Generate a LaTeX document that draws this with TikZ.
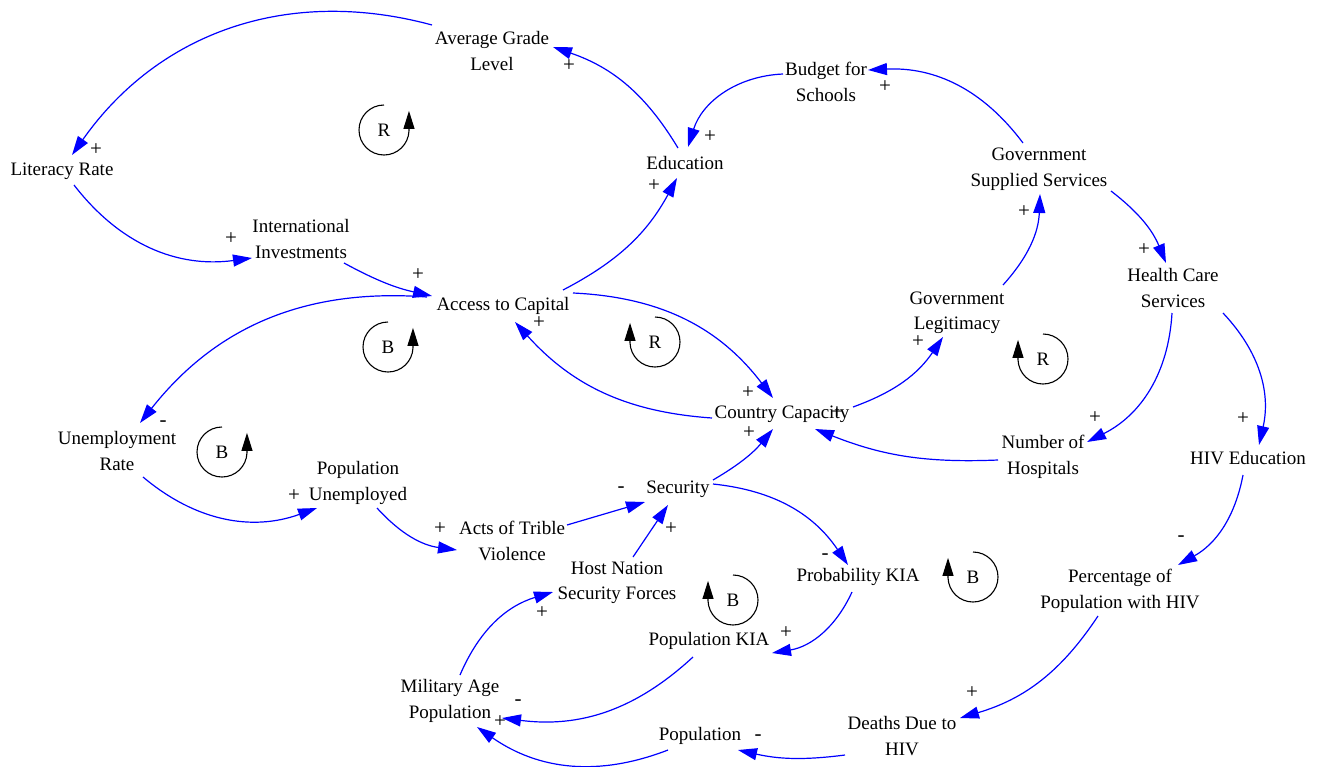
\documentclass[tikz,border=0pt]{standalone}
\usepackage{fontspec}
\setmainfont{Liberation Serif}
\usetikzlibrary{arrows.meta,calc}
\definecolor{linkblue}{RGB}{0,0,255}
\begin{document}
\begin{tikzpicture}[x=1pt,y=1pt,
  var/.style={align=center,inner sep=0pt,font=\fontsize{19}{25.5}\selectfont},
  pol/.style={inner sep=0pt,font=\fontsize{21}{21}\selectfont},
  lk/.style={draw=linkblue,line width=1.2pt,-{Triangle[length=19pt,width=12pt]}},
  loopmark/.style={draw=black,line width=1.1pt,-{Triangle[length=18pt,width=11pt]}},
  looplabel/.style={inner sep=0pt,font=\fontsize{19}{19}\selectfont}]
\useasboundingbox (0,0) rectangle (1320,-766);

% variables
\node[var] (agl)  at (492,-51)  {Average Grade\\Level};
\node[var] (lit)  at (62,-171)  {Literacy Rate};
\node[var] (inv)  at (301,-239) {International\\Investments};
\node[var] (acc)  at (503,-306) {Access to Capital};
\node[var] (edu)  at (685,-163) {Education};
\node[var] (bud)  at (826,-82)  {Budget for\\Schools};
\node[var] (gss)  at (1039,-169) {Government\\Supplied Services};
\node[var] (hcs)  at (1173,-288) {Health Care\\Services};
\node[var] (leg)  at (957,-313) {Government\\Legitimacy};
\node[var] (cap)  at (782,-414) {Country Capacity};
\node[var] (hos)  at (1043,-457) {Number of\\Hospitals};
\node[var] (hiv)  at (1248,-458) {HIV Education};
\node[var] (ur)   at (117,-451) {Unemployment\\Rate};
\node[var] (pu)   at (358,-483) {Population\\Unemployed};
\node[var] (sec)  at (678,-489) {Security};
\node[var] (atv)  at (512,-541) {Acts of Trible\\Violence};
\node[var] (hns)  at (617,-583) {Host Nation\\Security Forces};
\node[var] (pk)   at (858,-577) {Probability KIA};
\node[var] (pkia) at (709,-641) {Population KIA};
\node[var] (php)  at (1120,-591) {Percentage of\\Population with HIV};
\node[var] (map)  at (450,-701) {Military Age\\Population};
\node[var] (popl) at (700,-736) {Population};
\node[var] (dd)   at (902,-736) {Deaths Due to\\HIV};

% causal links
\draw[lk] ($(edu)+(-7,15)$)  to[bend right=20] ($(agl)+(61,4)$);
\draw[lk] ($(agl)+(-60,26)$) to[bend right=35] ($(lit)+(10,16)$);
\draw[lk] ($(lit)+(12,-14)$) to[bend right=30] ($(inv)+(-49,-19)$);
\draw[lk] ($(inv)+(43,-24)$) to[bend right=8]  ($(acc)+(-71,10)$);
\draw[lk] ($(acc)+(60,16)$)  to[bend right=17] ($(edu)+(-8,-15)$);
\draw[lk] ($(bud)+(-43,8)$)  to[bend right=35] ($(edu)+(3,16)$);
\draw[lk] ($(gss)+(-16,26)$) to[bend right=28] ($(bud)+(42,12)$);
\draw[lk] ($(gss)+(72,-22)$) to[bend left=15]  ($(hcs)+(-7,25)$);
\draw[lk] ($(hcs)+(-1,-25)$) to[bend left=30]  ($(hos)+(44,15)$);
\draw[lk] ($(hcs)+(50,-25)$) to[bend left=28]  ($(hiv)+(11,13)$);
\draw[lk] ($(hos)+(-45,-3)$) to[bend left=12]  ($(cap)+(33,-15)$);
\draw[lk] ($(cap)+(71,7)$)   to[bend right=18] ($(leg)+(-14,-24)$);
\draw[lk] ($(leg)+(46,28)$)  to[bend right=20] ($(gss)+(1,-25)$);
\draw[lk] ($(acc)+(70,13)$)  to[bend left=25]  ($(cap)+(-9,16)$);
\draw[lk] ($(cap)+(-70,-4)$) to[bend left=22]  ($(acc)+(12,-16)$);
\draw[lk] ($(acc)+(-76,9)$)  to[bend right=28] ($(ur)+(23,28)$);
\draw[lk] ($(ur)+(26,-26)$)  to[bend right=30] ($(pu)+(-41,-25)$);
\draw[lk] ($(pu)+(19,-25)$)  to[bend right=20] ($(atv)+(-55,-9)$);
\draw[lk] ($(atv)+(55,16)$)  -- ($(sec)+(-33,-13)$);
\draw[lk] ($(hns)+(16,26)$)  -- ($(sec)+(-10,-16)$);
\draw[lk] ($(sec)+(35,9)$)   to[bend right=10] ($(cap)+(-9,-15)$);
\draw[lk] ($(sec)+(35,5)$)   to[bend left=25]  ($(pk)+(-10,12)$);
\draw[lk] ($(pk)+(-6,-15)$)  to[bend left=28]  ($(pkia)+(63,-12)$);
\draw[lk] ($(pkia)+(-16,-16)$) to[bend left=25] ($(map)+(52,-17)$);
\draw[lk] ($(map)+(10,26)$)  to[bend left=25]  ($(hns)+(-64,-9)$);
\draw[lk] ($(popl)+(-32,-14)$) to[bend left=28] ($(map)+(27,-26)$);
\draw[lk] ($(dd)+(-57,-19)$) to[bend left=10]  ($(popl)+(38,-14)$);
\draw[lk] ($(php)+(-22,-25)$) to[bend left=20] ($(dd)+(58,18)$);
\draw[lk] ($(hiv)+(-5,-17)$) to[bend left=25]  ($(php)+(58,26)$);

% link polarities
\node[pol] (s1)  at (96,-150)  {+};
\node[pol] (s2)  at (231,-239) {+};
\node[pol] (s3)  at (418,-275) {+};
\node[pol] (s4)  at (569,-66)  {+};
\node[pol] (s5)  at (710,-137) {+};
\node[pol] (s6)  at (654,-186) {+};
\node[pol] (s7)  at (885,-87)  {+};
\node[pol] (s8)  at (1024,-212) {+};
\node[pol] (s9)  at (1144,-250) {+};
\node[pol] (s10) at (918,-342) {+};
\node[pol] (s11) at (1095,-418) {+};
\node[pol] (s12) at (1243,-419) {+};
\node[pol] (s13) at (1181,-539) {-};
\node[pol] (s14) at (163,-424) {-};
\node[pol] (s15) at (294,-496) {+};
\node[pol] (s16) at (440,-529) {+};
\node[pol] (s17) at (748,-393) {+};
\node[pol] (s18) at (749,-433) {+};
\node[pol] (s19) at (837,-413) {+};
\node[pol] (s20) at (539,-323) {+};
\node[pol] (s21) at (621,-490) {-};
\node[pol] (s22) at (671,-529) {+};
\node[pol] (s23) at (825,-557) {-};
\node[pol] (s24) at (542,-613) {+};
\node[pol] (s25) at (786,-633) {+};
\node[pol] (s26) at (518,-703) {-};
\node[pol] (s27) at (500,-722) {+};
\node[pol] (s28) at (758,-738) {-};
\node[pol] (s29) at (972,-693) {+};

% loop markers: counter-clockwise (arrow on the right)
\foreach \cx/\cy/\t/\nm in {384/-130/R/la, 388/-347/B/lb, 222/-452/B/lc} {
  \node[looplabel] (\nm) at (\cx,\cy) {\t};
  \draw[loopmark] (\cx,\cy+25) arc[start angle=90,end angle=358,radius=25] -- ++(0,20);
}
% loop markers: clockwise (arrow on the left)
\foreach \cx/\cy/\t/\nm in {655/-342/R/ld, 1043/-359/R/le, 733/-600/B/lf, 973/-577/B/lg} {
  \node[looplabel] (\nm) at (\cx,\cy) {\t};
  \draw[loopmark] (\cx,\cy+25) arc[start angle=90,end angle=-178,radius=25] -- ++(0,20);
}
\end{tikzpicture}
\end{document}
